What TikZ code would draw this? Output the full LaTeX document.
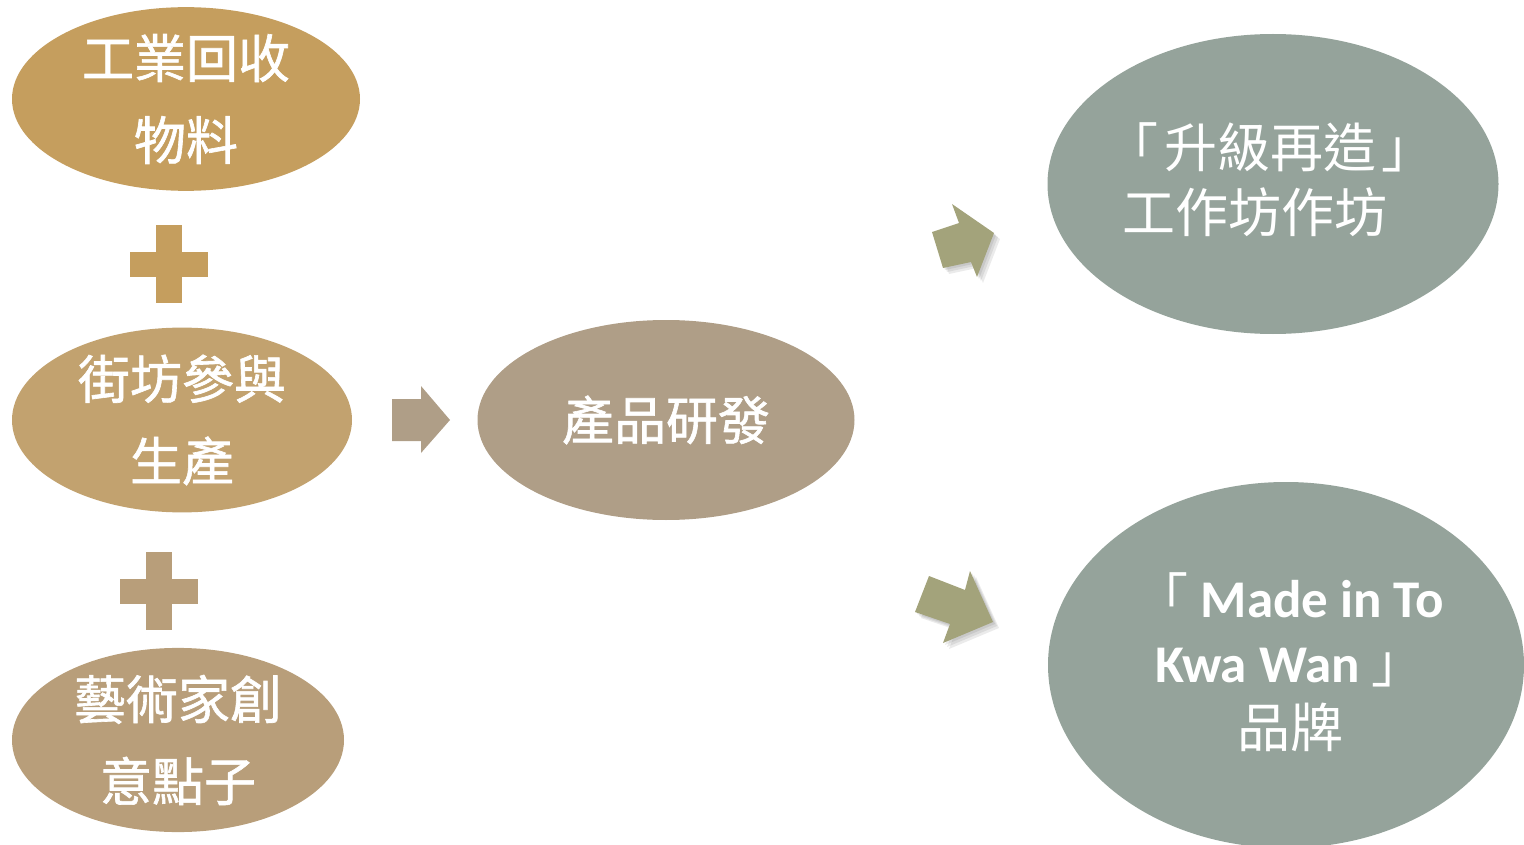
\documentclass[tikz,border=0pt]{standalone}
\usepackage{fontspec}
\setmainfont{Noto Sans CJK TC}
\newfontfamily\thickcjk[FakeBold=1.2]{Noto Sans CJK TC}
\newfontfamily\latinbold{Carlito}[BoldFont={Carlito Bold}]
\usetikzlibrary{shapes.geometric}

\definecolor{goldA}{HTML}{C59E5E}
\definecolor{goldB}{HTML}{C2A26F}
\definecolor{goldC}{HTML}{B89E7A}
\definecolor{taupe}{HTML}{AF9E87}
\definecolor{sage}{HTML}{95A39B}
\definecolor{olive}{HTML}{A3A37B}

\tikzset{
  blob/.style={ellipse, inner sep=0pt, text=white, align=center},
  lefttext/.style={font=\thickcjk\fontsize{52}{82}\selectfont},
  righttext/.style={font=\fontsize{53}{65}\selectfont, text=white, align=center}
}

\begin{document}
\begin{tikzpicture}[x=1pt,y=-1pt]
\useasboundingbox (0,0) rectangle (1524,845);
\clip (0,0) rectangle (1524,845);

% Inputs
\node[blob, lefttext, fill=goldA, minimum width=348, minimum height=175] (recycle) at (186,99) {工業回收\\物料};
\node[blob, lefttext, fill=goldB, minimum width=340, minimum height=176] (residents) at (182,420) {街坊參與\\生產};
\node[blob, lefttext, fill=goldC, minimum width=332, minimum height=177] (artists) at (178,740) {藝術家創\\意點子};

% Plus signs
\fill[goldA] (156,225) rectangle (182,303);
\fill[goldA] (130,252) rectangle (208,277);
\fill[goldC] (146,552) rectangle (172,630);
\fill[goldC] (120,579) rectangle (198,604);

% Development
\node[blob, lefttext, fill=taupe, minimum width=377, minimum height=200] (develop) at (666,420) {產品研發};

% Chunky arrow
\fill[taupe] (392,399) -- (421,399) -- (421,386) -- (450,420) -- (421,453) -- (421,441) -- (392,441) -- cycle;

% Outputs
\node[blob, fill=sage, minimum width=451, minimum height=300] (workshop) at (1273,184) {};
\node[righttext] (workshoplabel) at (1270,180) {「\hspace{6pt}升級再造\hspace{6pt}」\\工作坊作坊\hspace*{30pt}};
\node[blob, fill=sage, minimum width=476, minimum height=366] (brand) at (1286,665) {};
\node[righttext] (brandlabel) at (1290,662) {「{\latinbold\bfseries\fontsize{53}{65}\selectfont\ Made in To}\\{\latinbold\bfseries\fontsize{53}{65}\selectfont Kwa Wan\ }」\\品牌};

% Olive arrows with soft shadow
\foreach \s in {2,4,6}{
  \fill[black, opacity=0.08, shift={(\s,\s)}] (932,232) -- (959,223) -- (952,204) -- (994,233) -- (977,277) -- (971,262) -- (943,268) -- cycle;
  \fill[black, opacity=0.08, shift={(\s,\s)}] (929,576) -- (965,590) -- (970,571) -- (993,622) -- (943,643) -- (950,624) -- (915,612) -- cycle;
}
\fill[olive] (932,232) -- (959,223) -- (952,204) -- (994,233) -- (977,277) -- (971,262) -- (943,268) -- cycle;
\fill[olive] (929,576) -- (965,590) -- (970,571) -- (993,622) -- (943,643) -- (950,624) -- (915,612) -- cycle;
\end{tikzpicture}
\end{document}
